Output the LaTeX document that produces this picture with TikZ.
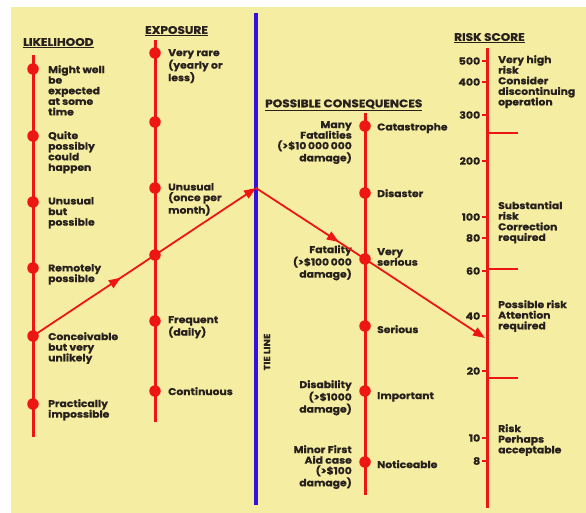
\documentclass[tikz,border=0pt]{standalone}
\usepackage{fontspec}
\setmainfont{Poppins}[FakeStretch=1.1, BoldFeatures={FakeBold=0.6}]
\usetikzlibrary{arrows.meta}
\usetikzlibrary{decorations.markings}
\definecolor{paper}{RGB}{245,238,162}
\definecolor{scarlet}{RGB}{238,22,18}
\definecolor{tieblue}{RGB}{52,16,226}
\definecolor{ink}{RGB}{40,32,28}

\begin{document}
\begin{tikzpicture}
  [x=1pt, y=-1pt,
   axis/.style={draw=scarlet, line width=3pt},
   dot/.style={circle, fill=scarlet, inner sep=0pt, minimum size=11.5pt},
   lbl/.style={anchor=north west, align=left, inner sep=0pt, text=ink,
      font=\bfseries\fontsize{9.8}{10.6}\selectfont},
   rlbl/.style={lbl, anchor=north east, align=right},
   ttl/.style={anchor=west, inner sep=0pt, text=ink,
      font=\bfseries\fontsize{11}{12}\selectfont},
   wire/.style={draw=scarlet, line width=1.8pt},
   midtip/.style={postaction={decorate}, decoration={markings,
      mark=at position #1 with {\arrow{Triangle[length=12pt,width=9pt]}}}},
   tick/.style={draw=scarlet, line width=1.5pt},
   band/.style={draw=scarlet, line width=2pt},
  ]
  \useasboundingbox (0,0) rectangle (586,513);
  \fill[paper] (11,7) rectangle (586,513);

  \node[ttl] (tlik) at (23,43) {\underline{LIKELIHOOD}};
  \node[ttl] (texp) at (145,31) {\underline{EXPOSURE}};
  \node[ttl] (tcon) at (265,105) {\underline{POSSIBLE CONSEQUENCES}};
  \node[ttl] (tris) at (454,38) {\underline{RISK SCORE}};

  \draw[axis] (33,55) -- (33,437);
  \draw[axis] (155,40) -- (155,422);
  \draw[axis] (365,113) -- (365,495);
  \draw[axis] (487,48) -- (487,508);
  \draw[draw=tieblue, line width=4pt] (256,13) -- (256,505);
  \node[rotate=90, inner sep=0pt, text=ink, font=\bfseries\fontsize{9}{10}\selectfont]
    (tie label) at (267,352) {TIE LINE};

  \foreach \n/\y in {1/69, 2/136, 3/202, 4/268, 5/336, 6/404}
    \node[dot] (L\n) at (33,\y) {};
  \foreach \n/\y in {1/53, 2/122, 3/188, 4/255, 5/321, 6/391}
    \node[dot] (E\n) at (155,\y) {};
  \foreach \n/\y in {1/126, 2/193, 3/259, 4/326, 5/391, 6/462}
    \node[dot] (C\n) at (365,\y) {};

  \node[lbl] (l1) at (48,65) {Might well\\be\\expected\\at some\\time};
  \node[lbl] (l2) at (48,131) {Quite\\possibly\\could\\happen};
  \node[lbl] (l3) at (48,197) {Unusual\\but\\possible};
  \node[lbl] (l4) at (48,264) {Remotely\\possible};
  \node[lbl] (l5) at (48,332) {Conceivable\\but very\\unlikely};
  \node[lbl] (l6) at (48,399) {Practically\\impossible};

  \node[lbl] (e1) at (168,49) {Very rare\\(yearly or\\less)};
  \node[lbl] (e3) at (168,183) {Unusual\\(once per\\month)};
  \node[lbl] (e5) at (168,316) {Frequent\\(daily)};
  \node[lbl] (e6) at (168,387) {Continuous};

  \node[lbl] (c1) at (377,123) {Catastrophe};
  \node[lbl] (c2) at (377,189) {Disaster};
  \node[lbl] (c3) at (377,248) {Very\\serious};
  \node[lbl] (c4) at (377,325) {Serious};
  \node[lbl] (c5) at (377,392) {Important};
  \node[lbl] (c6) at (377,460) {Noticeable};
  \node[rlbl] (d1) at (352,121) {Many\\Fatalities\\(>\$10\,000\,000\\damage)};
  \node[rlbl] (d3) at (352,245) {Fatality\\(>\$100\,000\\damage)};
  \node[rlbl] (d5) at (352,380) {Disability\\(>\$1000\\damage)};
  \node[rlbl] (d6) at (352,445) {Minor First\\Aid case\\(>\$100\\damage)};

  \foreach \v/\y in {500/61, 400/82, 300/115, 200/161, 100/217, 80/238, 60/271, 40/316, 20/371, 10/438, 8/461}
    \draw[tick] (487,\y) -- ++(-5,0)
      node[left, inner sep=1pt, text=ink, font=\bfseries\fontsize{10}{10}\selectfont] (s\v) {\v};
  \foreach \y in {133, 269, 378}
    \draw[band] (487,\y) -- ++(31,0);

  \node[lbl] (r1) at (498,55) {Very high\\risk\\Consider\\discontinuing\\operation};
  \node[lbl] (r2) at (498,201) {Substantial\\risk\\Correction\\required};
  \node[lbl] (r3) at (498,300) {Possible risk\\Attention\\required};
  \node[lbl] (r4) at (498,424) {Risk\\Perhaps\\acceptable};

  \coordinate (tie) at (256,188);
  \coordinate (hit) at (485,338);
  \draw[wire, midtip=0.72] (L5.center) -- (E4.center);
  \draw[wire, -{Triangle[length=12pt,width=9pt]}] (E4.center) -- (tie);
  \draw[wire, midtip=0.76] (tie) -- (C3.center);
  \draw[wire, -{Triangle[length=12pt,width=9pt]}] (C3.center) -- (hit);
\end{tikzpicture}
\end{document}
